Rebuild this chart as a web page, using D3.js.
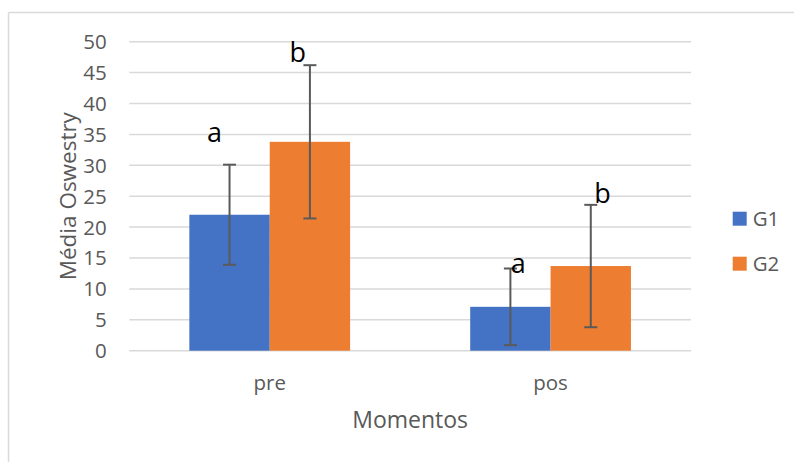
<!DOCTYPE html>
<html>
<head>
<meta charset="utf-8">
<script src="https://cdn.jsdelivr.net/npm/d3@7"></script>
<style>
  html, body { margin: 0; padding: 0; background: #ffffff; }
  svg { display: block; font-family: "Open Sans", "Noto Sans", sans-serif; }
</style>
</head>
<body>
<svg id="chart" width="794" height="462"></svg>
<script>
// Oswestry disability index, mean ± SD per moment and group
const categories = ["pre", "pos"];
const groups = ["G1", "G2"];
const meanG1 = [22.0, 7.1];
const meanG2 = [33.8, 13.7];
const sdG1 = [8.1, 6.2];
const sdG2 = [12.4, 9.9];
const letterG1 = ["a", "a"];
const letterG2 = ["b", "b"];
const yTicks = [0, 5, 10, 15, 20, 25, 30, 35, 40, 45, 50];

const colors = { G1: "#4472C4", G2: "#ED7D31" };
const textGrey = "#595959";
const gridGrey = "#d9d9d9";

// pixel nudges for the significance letters, relative to the error-bar cap
const letterNudge = {
  "pre-G1": [-22.5, -22.3],
  "pre-G2": [-20.5, -2.7],
  "pos-G1": [0.4, 4.4],
  "pos-G2": [3.5, -1.7]
};

const rows = [];
categories.forEach((c, i) => {
  rows.push({ cat: c, grp: "G1", mean: meanG1[i], sd: sdG1[i], letter: letterG1[i] });
  rows.push({ cat: c, grp: "G2", mean: meanG2[i], sd: sdG2[i], letter: letterG2[i] });
});

const svg = d3.select("#chart");
const plot = { left: 129.3, right: 691, top: 41.7, bottom: 350.7 };

// outer chart frame (top and left edges)
svg.append("line").attr("x1", 8.5).attr("x2", 794).attr("y1", 12.5).attr("y2", 12.5)
  .attr("stroke", gridGrey).attr("stroke-width", 1.5);
svg.append("line").attr("x1", 8.5).attr("x2", 8.5).attr("y1", 12.5).attr("y2", 462)
  .attr("stroke", gridGrey).attr("stroke-width", 1.5);

const y = d3.scaleLinear().domain([0, 50]).range([plot.bottom, plot.top]);
const x = d3.scaleBand().domain(categories).range([plot.left, plot.right]).paddingInner(0).paddingOuter(0);
const xSub = d3.scaleBand().domain(groups).range([0, x.bandwidth()]).paddingInner(0).paddingOuter(0.747);

// gridlines
svg.append("g").selectAll("line").data(yTicks).join("line")
  .attr("x1", plot.left).attr("x2", plot.right)
  .attr("y1", d => y(d)).attr("y2", d => y(d))
  .attr("stroke", gridGrey).attr("stroke-width", 1.5);

// y axis labels
const yAxis = svg.append("g").attr("transform", `translate(${plot.left},0)`)
  .call(d3.axisLeft(y).tickValues(yTicks).tickSize(0).tickPadding(22.6));
yAxis.select(".domain").remove();
yAxis.selectAll("text")
  .attr("fill", textGrey).attr("font-size", "20.5px")
  .attr("font-family", "'Open Sans', sans-serif")
  .attr("dy", "0.34em");

// x axis labels
const xAxis = svg.append("g").attr("transform", `translate(0,${plot.bottom})`)
  .call(d3.axisBottom(x).tickSize(0));
xAxis.select(".domain").remove();
xAxis.selectAll("text")
  .attr("fill", textGrey).attr("font-size", "20.5px")
  .attr("font-family", "'Open Sans', sans-serif")
  .attr("y", 39.3).attr("dy", null);

// bars
svg.append("g").selectAll("rect").data(rows).join("rect")
  .attr("x", d => x(d.cat) + xSub(d.grp))
  .attr("width", xSub.bandwidth())
  .attr("y", d => y(d.mean))
  .attr("height", d => y(0) - y(d.mean))
  .attr("fill", d => colors[d.grp]);

// error bars
const cx = d => x(d.cat) + xSub(d.grp) + xSub.bandwidth() / 2;
const err = svg.append("g").attr("stroke", "#5a5a5a").attr("stroke-width", 2).attr("fill", "none");
rows.forEach(d => {
  const hi = y(d.mean + d.sd), lo = y(d.mean - d.sd), c = cx(d);
  err.append("line").attr("x1", c).attr("x2", c).attr("y1", hi).attr("y2", lo);
  err.append("line").attr("x1", c - 6.5).attr("x2", c + 6.5).attr("y1", hi).attr("y2", hi);
  err.append("line").attr("x1", c - 6.5).attr("x2", c + 6.5).attr("y1", lo).attr("y2", lo);
});

// significance letters
svg.append("g").selectAll("text").data(rows).join("text")
  .attr("x", d => cx(d) + letterNudge[`${d.cat}-${d.grp}`][0])
  .attr("y", d => y(d.mean + d.sd) + letterNudge[`${d.cat}-${d.grp}`][1])
  .attr("font-size", "27px").attr("fill", "#000000")
  .text(d => d.letter);

// axis titles
svg.append("text")
  .attr("transform", `translate(76,${(plot.top + plot.bottom) / 2}) rotate(-90)`)
  .attr("text-anchor", "middle").attr("fill", textGrey).attr("font-size", "22.5px")
  .text("Média Oswestry");
svg.append("text")
  .attr("x", (plot.left + plot.right) / 2).attr("y", 428.3)
  .attr("text-anchor", "middle").attr("fill", textGrey).attr("font-size", "23px")
  .text("Momentos");

// legend
const legend = svg.append("g").selectAll("g").data(groups).join("g")
  .attr("transform", (d, i) => `translate(732.7,${211.7 + i * 45})`);
legend.append("rect").attr("width", 14).attr("height", 14).attr("fill", d => colors[d]);
legend.append("text").attr("x", 20).attr("y", 14)
  .attr("fill", textGrey).attr("font-size", "20.5px").text(d => d);
</script>
</body>
</html>
